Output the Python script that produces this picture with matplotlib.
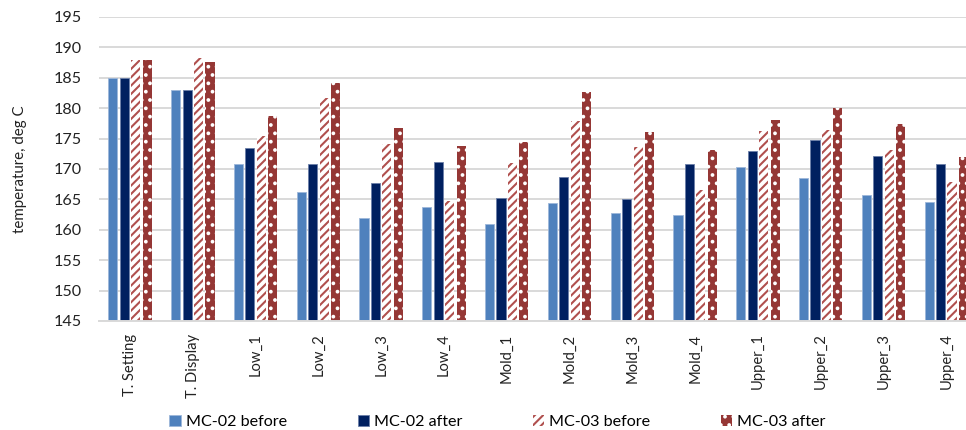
import numpy as np
import matplotlib.pyplot as plt

categories = ['T. Setting', 'T. Display', 'Low_1', 'Low_2', 'Low_3', 'Low_4',
              'Mold_1', 'Mold_2', 'Mold_3', 'Mold_4',
              'Upper_1', 'Upper_2', 'Upper_3', 'Upper_4']
mc02_before = [185.0, 183.0, 170.8, 166.2, 161.9, 163.8, 160.9, 164.4, 162.8, 162.5, 170.4, 168.6, 165.8, 164.5]
mc02_after = [185.0, 183.0, 173.5, 170.9, 167.7, 171.1, 165.3, 168.7, 165.1, 170.9, 173.0, 174.8, 172.2, 170.9]
mc03_before = [187.9, 188.3, 175.5, 181.6, 174.1, 164.7, 171.0, 177.9, 173.6, 166.6, 176.2, 176.4, 173.2, 167.9]
mc03_after = [187.9, 187.6, 178.7, 184.2, 176.8, 173.7, 174.5, 182.6, 176.1, 173.1, 178.1, 180.0, 177.4, 172.0]

plt.rcParams['font.family'] = ['Lato', 'DejaVu Sans']
plt.rcParams['hatch.linewidth'] = 1.5

fig = plt.figure(figsize=(9.66, 4.30), dpi=100)
ax = fig.add_axes([0.1021, 0.2535, 0.910, 0.707])

x = np.arange(len(categories))
w = 0.145
step = 0.182

ax.bar(x - 1.5 * step, mc02_before, w, color='#4F81BD', edgecolor='#9DB7DA',
       linewidth=0.6, label='MC-02 before', zorder=2)
ax.bar(x - 0.5 * step, mc02_after, w, color='#002060', edgecolor='#6B7FA8',
       linewidth=0.6, label='MC-02 after', zorder=2)
ax.bar(x + 0.5 * step, mc03_before, w, color='white', edgecolor='#B0504E',
       hatch='////', linewidth=0, label='MC-03 before', zorder=2)
ax.bar(x + 1.5 * step, mc03_after, w, color='#953735', edgecolor='white',
       hatch='..', linewidth=0, label='MC-03 after', zorder=2)

ax.set_ylim(145, 195)
ax.set_xlim(-0.5, len(categories) - 0.5)
ax.set_yticks(np.arange(145, 196, 5))
ax.set_xticks(x)
ax.set_xticklabels(categories, rotation=90, fontsize=10.6, color='#222222')
ax.tick_params(axis='y', labelsize=11.6, colors='#222222', length=0, pad=12)
ax.tick_params(axis='x', length=0, pad=9)
ax.set_ylabel('temperature, deg C', fontsize=10.8, color='#222222')
ax.yaxis.set_label_coords(-0.081, 0.5)

ax.grid(axis='y', color='#D9D9D9', linewidth=1.4, zorder=0)
ax.set_axisbelow(True)
for s in ['top', 'right', 'left']:
    ax.spines[s].set_visible(False)
ax.spines['bottom'].set_color('#D9D9D9')
ax.spines['bottom'].set_linewidth(1.4)

fig.legend(loc='lower center', bbox_to_anchor=(0.515, -0.032), ncol=4, frameon=False,
           fontsize=11.6, handlelength=0.7, handleheight=0.7, handletextpad=0.3,
           columnspacing=4.4)

fig.savefig('out.png', dpi=100)
